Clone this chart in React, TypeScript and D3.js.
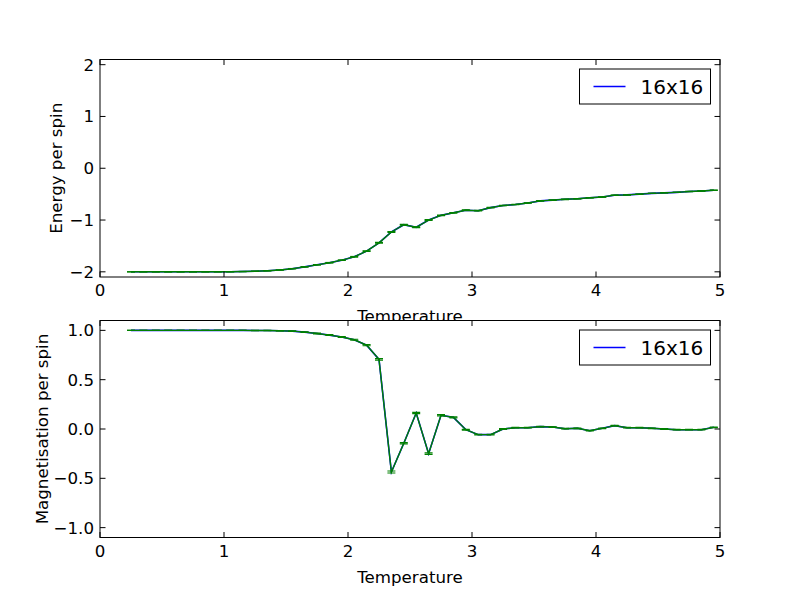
import React, { useEffect, useRef } from 'react';
import * as d3 from 'd3';

// Temperature grid (x values)
const temperatures = [
  0.25, 0.35, 0.45, 0.55, 0.65, 0.75, 0.85, 0.95, 1.05, 1.15,
  1.25, 1.35, 1.45, 1.55, 1.65, 1.75, 1.85, 1.95, 2.05, 2.15,
  2.25, 2.35, 2.45, 2.55, 2.65, 2.75, 2.85, 2.95, 3.05, 3.15,
  3.25, 3.35, 3.45, 3.55, 3.65, 3.75, 3.85, 3.95, 4.05, 4.15,
  4.25, 4.35, 4.45, 4.55, 4.65, 4.75, 4.85, 4.95
];

const energy = [
  -2.0, -2.0, -2.0, -2.0, -2.0, -2.0, -2.0, -1.999, -1.998, -1.995,
  -1.99, -1.98, -1.965, -1.94, -1.905, -1.865, -1.825, -1.775, -1.71, -1.6,
  -1.44, -1.23, -1.09, -1.14, -1.0, -0.91, -0.86, -0.81, -0.82, -0.76,
  -0.72, -0.70, -0.67, -0.63, -0.615, -0.60, -0.59, -0.57, -0.555, -0.52,
  -0.515, -0.50, -0.485, -0.475, -0.465, -0.45, -0.44, -0.425
];

const energyErr = [
  0.001, 0.001, 0.001, 0.001, 0.001, 0.001, 0.001, 0.001, 0.001, 0.002,
  0.002, 0.002, 0.003, 0.003, 0.004, 0.004, 0.005, 0.005, 0.006, 0.007,
  0.008, 0.009, 0.008, 0.008, 0.007, 0.006, 0.006, 0.005, 0.005, 0.005,
  0.004, 0.004, 0.004, 0.004, 0.004, 0.004, 0.003, 0.003, 0.003, 0.003,
  0.003, 0.003, 0.003, 0.003, 0.003, 0.003, 0.003, 0.003
];

const magnetisation = [
  1.0, 1.0, 1.0, 1.0, 1.0, 1.0, 1.0, 1.0, 1.0, 1.0,
  0.999, 0.998, 0.996, 0.992, 0.982, 0.968, 0.952, 0.933, 0.905, 0.85,
  0.706, -0.436, -0.145, 0.162, -0.25, 0.139, 0.118, -0.007, -0.057, -0.057,
  0.0, 0.013, 0.013, 0.024, 0.02, 0.003, 0.007, -0.017, 0.007, 0.034,
  0.013, 0.013, 0.007, 0.0, -0.007, -0.007, -0.007, 0.017
];

const magErr = [
  0.001, 0.001, 0.001, 0.001, 0.001, 0.001, 0.001, 0.001, 0.001, 0.001,
  0.001, 0.001, 0.002, 0.002, 0.003, 0.003, 0.004, 0.004, 0.005, 0.006,
  0.008, 0.01, 0.006, 0.006, 0.008, 0.006, 0.005, 0.004, 0.004, 0.004,
  0.003, 0.003, 0.003, 0.003, 0.003, 0.003, 0.003, 0.003, 0.003, 0.003,
  0.003, 0.003, 0.003, 0.003, 0.003, 0.003, 0.003, 0.003
];

const xTicks = [0, 1, 2, 3, 4, 5];
const energyTicks = [-2, -1, 0, 1, 2];
const magTicks = [-1.0, -0.5, 0.0, 0.5, 1.0];
const legendLabel = '16x16';

const App: React.FC = () => {
  const svgRef = useRef<SVGSVGElement>(null);

  useEffect(() => {
    if (!svgRef.current) return;
    const svg = d3.select(svgRef.current);
    svg.selectAll('*').remove();

    const font = 'DejaVu Sans, sans-serif';
    const left = 100;
    const right = 720;
    const tickLen = 5.5;

    const panels = [
      {
        top: 59.5, bottom: 277, domain: [-2.1, 2.1], ticks: energyTicks,
        fmt: (d: number) => d3.format('d')(d).replace('-', '\u2212'),
        values: energy, errs: energyErr, ylabel: 'Energy per spin', ylabelX: 62
      },
      {
        top: 320.5, bottom: 537.5, domain: [-1.1, 1.1], ticks: magTicks,
        fmt: (d: number) => d3.format('.1f')(d).replace('-', '\u2212'),
        values: magnetisation, errs: magErr, ylabel: 'Magnetisation per spin', ylabelX: 47.5
      }
    ];

    const x = d3.scaleLinear().domain([0, 5]).range([left, right]);

    panels.forEach((p, pi) => {
      const y = d3.scaleLinear().domain(p.domain).range([p.bottom, p.top]);
      const g = svg.append('g');

      // axes background (covers the x label of the panel above)
      g.append('rect')
        .attr('x', left).attr('y', p.top)
        .attr('width', right - left).attr('height', p.bottom - p.top)
        .style('fill', 'white');

      const clipId = `clip${pi}`;
      svg.append('clipPath').attr('id', clipId)
        .append('rect')
        .attr('x', left).attr('y', p.top)
        .attr('width', right - left).attr('height', p.bottom - p.top);

      const plot = g.append('g').attr('clip-path', `url(#${clipId})`);
      const pts = temperatures.map((t, i) => [t, p.values[i], p.errs[i]]);

      const line = d3.line<number[]>().x(d => x(d[0])).y(d => y(d[1]));

      // blue data line
      plot.append('path')
        .attr('d', line(pts))
        .style('fill', 'none').style('stroke', '#0000ff').style('stroke-width', 1.6);

      // green errorbar line on top
      plot.append('path')
        .attr('d', line(pts))
        .style('fill', 'none').style('stroke', '#008000').style('stroke-width', 1.4);

      pts.forEach(d => {
        const cx = x(d[0]);
        const y1 = y(d[1] - d[2]);
        const y2 = y(d[1] + d[2]);
        plot.append('line')
          .attr('x1', cx).attr('x2', cx).attr('y1', y1).attr('y2', y2)
          .style('stroke', '#008000').style('stroke-width', 1.2);
        [y1, y2].forEach(cy => {
          plot.append('line')
            .attr('x1', cx - 4).attr('x2', cx + 4).attr('y1', cy).attr('y2', cy)
            .style('stroke', '#008000').style('stroke-width', 1.2);
        });
      });

      // ticks inside on all four sides
      xTicks.forEach(t => {
        const tx = x(t);
        g.append('line').attr('x1', tx).attr('x2', tx)
          .attr('y1', p.bottom).attr('y2', p.bottom - tickLen)
          .style('stroke', 'black').style('stroke-width', 1);
        g.append('line').attr('x1', tx).attr('x2', tx)
          .attr('y1', p.top).attr('y2', p.top + tickLen)
          .style('stroke', 'black').style('stroke-width', 1);
        g.append('text')
          .attr('x', tx).attr('y', p.bottom + 19)
          .attr('text-anchor', 'middle')
          .style('font-family', font).style('font-size', '16.67px')
          .text(d3.format('d')(t));
      });

      p.ticks.forEach(t => {
        const ty = y(t);
        g.append('line').attr('x1', left).attr('x2', left + tickLen)
          .attr('y1', ty).attr('y2', ty)
          .style('stroke', 'black').style('stroke-width', 1);
        g.append('line').attr('x1', right).attr('x2', right - tickLen)
          .attr('y1', ty).attr('y2', ty)
          .style('stroke', 'black').style('stroke-width', 1);
        g.append('text')
          .attr('x', left - 6).attr('y', ty + 6)
          .attr('text-anchor', 'end')
          .style('font-family', font).style('font-size', '16.67px')
          .text(p.fmt(t));
      });

      // frame
      g.append('rect')
        .attr('x', left).attr('y', p.top)
        .attr('width', right - left).attr('height', p.bottom - p.top)
        .style('fill', 'none').style('stroke', 'black').style('stroke-width', 1);

      // legend
      const lx = 579.5, ly = p.top + 9.5, lw = 131, lh = 35;
      g.append('rect')
        .attr('x', lx).attr('y', ly).attr('width', lw).attr('height', lh)
        .style('fill', 'white').style('stroke', 'black').style('stroke-width', 1);
      g.append('line')
        .attr('x1', lx + 14).attr('x2', lx + 46)
        .attr('y1', ly + lh / 2).attr('y2', ly + lh / 2)
        .style('stroke', '#0000ff').style('stroke-width', 1.4);
      g.append('text')
        .attr('x', lx + 61).attr('y', ly + lh / 2 + 7)
        .style('font-family', font).style('font-size', '20px')
        .text(legendLabel);

      // axis labels
      g.append('text')
        .attr('x', (left + right) / 2).attr('y', p.bottom + 45)
        .attr('text-anchor', 'middle')
        .style('font-family', font).style('font-size', '16.67px')
        .text('Temperature');
      g.append('text')
        .attr('transform', `translate(${p.ylabelX},${(p.top + p.bottom) / 2}) rotate(-90)`)
        .attr('text-anchor', 'middle')
        .style('font-family', font).style('font-size', '16.67px')
        .text(p.ylabel);
    });
  }, []);

  return (
    <svg
      ref={svgRef}
      width={800}
      height={597}
      style={{ position: 'absolute', left: 0, top: 0, background: 'white' }}
    />
  );
};

export default App;
